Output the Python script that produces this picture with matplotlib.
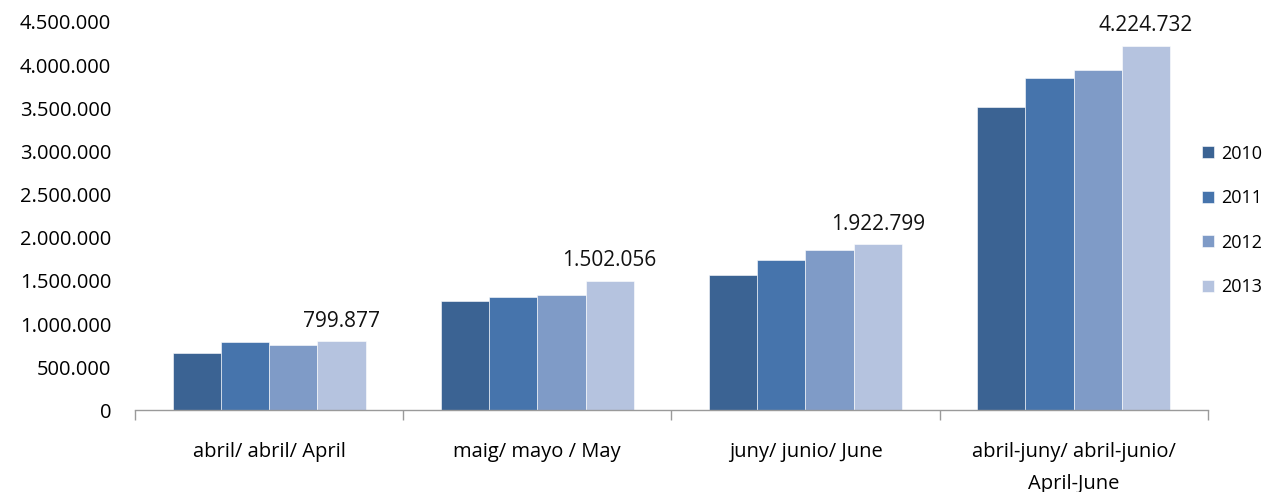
import numpy as np
import matplotlib.pyplot as plt

categories = ['abril/ abril/ April', 'maig/ mayo / May', 'juny/ junio/ June',
              'abril-juny/ abril-junio/\nApril-June']
years = ['2010', '2011', '2012', '2013']
v2010 = [671000, 1270000, 1572000, 3513000]
v2011 = [798000, 1313000, 1746000, 3857000]
v2012 = [756000, 1336000, 1854000, 3946000]
v2013 = [799877, 1502056, 1922799, 4224732]
labels_2013 = ['799.877', '1.502.056', '1.922.799', '4.224.732']
yticks = [0, 500000, 1000000, 1500000, 2000000, 2500000, 3000000, 3500000, 4000000, 4500000]

colors = ['#3b6393', '#4674ac', '#7f9bc7', '#b5c3df']

plt.rcParams['font.family'] = ['Open Sans', 'DejaVu Sans']

fig = plt.figure(figsize=(12.66, 4.92), dpi=100)
ax = fig.add_axes([0.1066, 0.1657, 0.8474, 0.7896])

x = np.arange(len(categories))
w = 0.18
series = [v2010, v2011, v2012, v2013]
for i, vals in enumerate(series):
    ax.bar(x + (i - 1.5) * w, vals, w, color=colors[i], label=years[i],
           edgecolor='white', linewidth=0.4)

for xi, v, lab in zip(x, v2013, labels_2013):
    ax.annotate(lab, (xi + 1.5 * w, v), xytext=(0, 7), textcoords='offset points',
                ha='center', va='bottom', fontsize=15, color='#111111')

ax.set_xlim(-0.5, 3.5)
ax.set_ylim(0, 4500000)
ax.set_yticks(yticks)
ax.set_yticklabels([f'{t:,}'.replace(',', '.') for t in yticks], fontsize=14.5)
ax.tick_params(axis='y', length=0, pad=17)

ax.set_xticks(x)
ax.set_xticklabels(categories, fontsize=14.5, linespacing=1.75)
ax.set_xticks(np.arange(-0.5, 4, 1), minor=True)
ax.tick_params(axis='x', which='major', length=0, pad=23)
ax.tick_params(axis='x', which='minor', length=7, color='#9a9a9a', width=1)

for s in ['top', 'right', 'left']:
    ax.spines[s].set_visible(False)
ax.spines['bottom'].set_color('#9a9a9a')
ax.spines['bottom'].set_linewidth(1)

ax.legend(loc='center left', bbox_to_anchor=(1202 / 1266, 0.552),
          bbox_transform=fig.transFigure, frameon=False, borderpad=0,
          borderaxespad=0, fontsize=13, handlelength=0.67, handleheight=0.67,
          labelspacing=1.47, handletextpad=0.4)

fig.savefig('out.png', dpi=100)
